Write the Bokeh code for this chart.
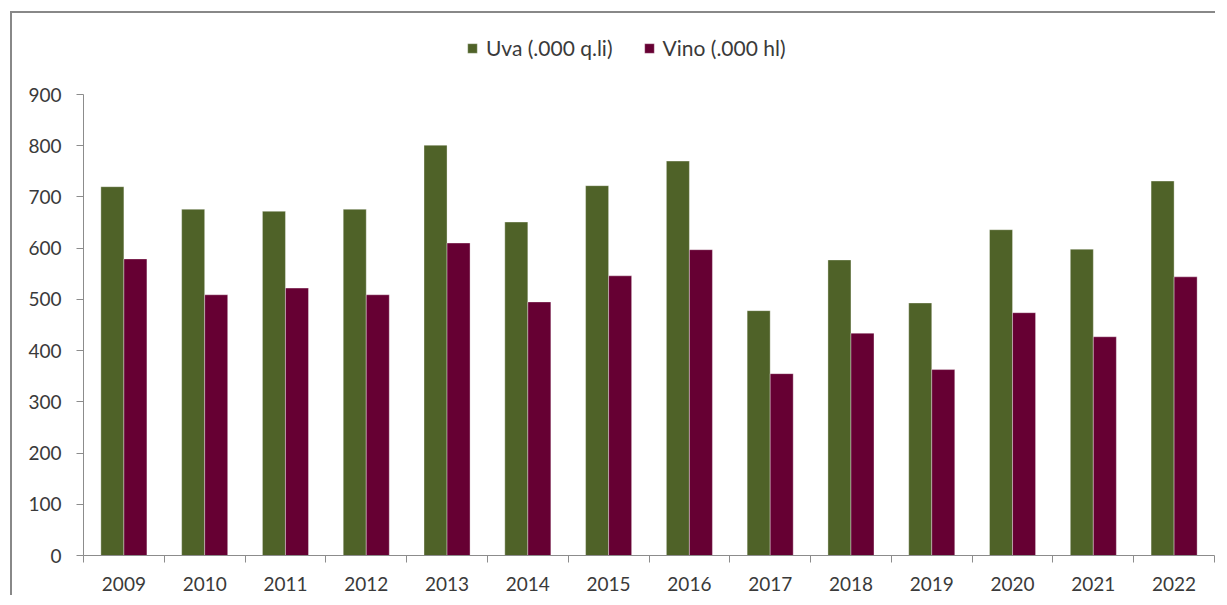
from bokeh.plotting import figure
from bokeh.models import (ColumnDataSource, FactorRange, Range1d, LinearAxis,
                          CategoricalAxis, FixedTicker, Legend, LegendItem)
from bokeh.transform import dodge
from bokeh.embed import file_html
from bokeh.resources import INLINE

# ---- data ----
years = ["2009", "2010", "2011", "2012", "2013", "2014", "2015",
         "2016", "2017", "2018", "2019", "2020", "2021", "2022"]
uva = [720, 676, 672, 676, 801, 651, 722, 770, 478, 577, 493, 636, 598, 731]
vino = [579, 509, 522, 509, 610, 495, 546, 597, 355, 434, 363, 474, 427, 544]
y_ticks = [0, 100, 200, 300, 400, 500, 600, 700, 800, 900]
series_labels = ["Uva (.000 q.li)", "Vino (.000 hl)"]

GREEN = "#4f6228"
PURPLE = "#660033"
AXIS = "#8c8c8c"
TEXT = "#3a3a3a"
FONT = "Lato"
FSIZE = "19px"

# layout (pixels)
W, H = 1205, 584
B_LEFT, B_RIGHT, B_TOP, B_BOTTOM = 71, 3, 20, 42
AXIS_PX = 461          # pixel height of the 0..900 value axis
frame_h = H - B_TOP - B_BOTTOM
y_end = y_ticks[-1] * frame_h / AXIS_PX   # leaves room for the legend above the axis

source = ColumnDataSource(dict(year=years, uva=uva, vino=vino))

p = figure(x_range=FactorRange(*years), y_range=Range1d(0, y_end),
           width=W, height=H, output_backend="svg", toolbar_location=None,
           x_axis_location=None, y_axis_location="left",
           min_border_left=B_LEFT, min_border_right=B_RIGHT,
           min_border_top=B_TOP, min_border_bottom=B_BOTTOM)
p.styles = {"margin-left": "10px", "margin-top": "11px",
            "border-left": "2px solid #888888", "border-top": "2px solid #888888"}

p.xgrid.visible = False
p.ygrid.visible = False
p.outline_line_color = None

bw = 0.285
r1 = p.vbar(x=dodge("year", -bw / 2, range=p.x_range), top="uva", width=bw,
            source=source, fill_color=GREEN, line_color="white", line_alpha=0.35,
            line_width=1)
r2 = p.vbar(x=dodge("year", bw / 2, range=p.x_range), top="vino", width=bw,
            source=source, fill_color=PURPLE, line_color="white", line_alpha=0.35,
            line_width=1)

# y axis
ya = p.yaxis[0]
ya.ticker = FixedTicker(ticks=y_ticks)
ya.bounds = (y_ticks[0], y_ticks[-1])
ya.axis_line_color = AXIS
ya.major_tick_line_color = AXIS
ya.major_tick_out = 7
ya.major_tick_in = 0
ya.minor_tick_line_color = None
ya.major_label_standoff = 15
ya.major_label_text_font = FONT
ya.major_label_text_font_size = FSIZE
ya.major_label_text_color = TEXT

# x tick marks at category boundaries (synthetic coordinates 0..N)
edge_axis = LinearAxis(ticker=FixedTicker(ticks=list(range(len(years) + 1))))
edge_axis.axis_line_color = AXIS
edge_axis.major_tick_line_color = AXIS
edge_axis.major_tick_out = 7
edge_axis.major_tick_in = 0
edge_axis.minor_tick_line_color = None
edge_axis.major_label_text_font_size = "0px"
edge_axis.major_label_text_color = None
edge_axis.major_label_standoff = 0
p.add_layout(edge_axis, "below")

cat_axis = CategoricalAxis()
cat_axis.axis_line_color = None
cat_axis.major_tick_line_color = None
cat_axis.minor_tick_line_color = None
cat_axis.major_label_standoff = 8
cat_axis.major_label_text_font = FONT
cat_axis.major_label_text_font_size = FSIZE
cat_axis.major_label_text_color = TEXT
p.add_layout(cat_axis, "below")

legend = Legend(items=[LegendItem(label=series_labels[0], renderers=[r1]),
                       LegendItem(label=series_labels[1], renderers=[r2])],
                orientation="horizontal", location=(383, 495),
                glyph_width=12, glyph_height=12, label_standoff=8, spacing=30,
                border_line_color=None, background_fill_alpha=0, padding=0,
                margin=0, label_text_font=FONT, label_text_font_size="21px",
                label_text_color=TEXT)
p.add_layout(legend, "center")

open("out.html", "w").write(file_html(p, INLINE))
